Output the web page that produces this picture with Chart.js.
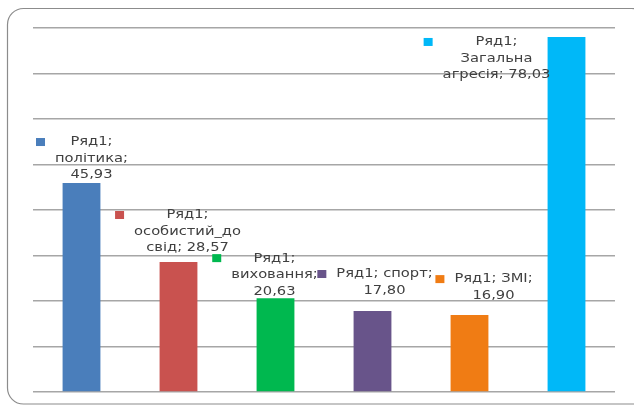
<!DOCTYPE html>
<html>
<head>
<meta charset="utf-8">
<script src="https://cdn.jsdelivr.net/npm/chart.js@4.4.1/dist/chart.umd.min.js"></script>
<style>
  html, body { margin: 0; padding: 0; background: #fff; }
  #wrap { width: 634px; height: 407px; }
</style>
</head>
<body>
<div id="wrap"><canvas id="chart" width="634" height="407"></canvas></div>
<script>
// data
const seriesName = 'Ряд1';
const categories = ['політика', 'особистий_досвід', 'виховання', 'спорт', 'ЗМІ', 'Загальна агресія'];
const values = [45.93, 28.57, 20.63, 17.80, 16.90, 78.03];
const barColors = ['#4A7EBB', '#C9524F', '#00B84F', '#68548A', '#F07C14', '#00B8F8'];
const yTicks = { min: 0, max: 80, step: 10 };

// label placement (relative to top-centre of each bar) and wrap width
const labelDx = [10, 9, -1, 12, 24, -70];
const labelDy = [-41, -47, -40, -37, -36, 5];
const labelWrap = [82, 114, 90, 104, 86, 112];
const textStretch = 1.13; // reference glyphs are a bit wider than DejaVu

const fmt = v => v.toFixed(2).replace('.', ',');

function wrapText(ctx, text, maxW) {
  const mw = s => ctx.measureText(s).width * textStretch;
  const words = text.split(' ');
  const lines = [];
  let cur = '';
  words.forEach(w => {
    const test = cur ? cur + ' ' + w : w;
    if (mw(test) <= maxW) { cur = test; return; }
    if (cur) lines.push(cur);
    // break long word by characters
    if (mw(w) > maxW) {
      let part = '';
      for (const ch of w) {
        if (mw(part + ch) > maxW) { lines.push(part); part = ch; }
        else part += ch;
      }
      cur = part;
    } else cur = w;
  });
  if (cur) lines.push(cur);
  return lines;
}

const framePlugin = {
  id: 'frame',
  beforeDraw(chart) {
    const ctx = chart.ctx;
    ctx.save();
    ctx.strokeStyle = '#8c8c8c';
    ctx.lineWidth = 1.2;
    ctx.beginPath();
    ctx.roundRect(7.5, 8.5, 640, 395.5, 16);
    ctx.stroke();
    ctx.restore();
  }
};

const labelPlugin = {
  id: 'barLabels',
  afterDatasetsDraw(chart) {
    const ctx = chart.ctx;
    const meta = chart.getDatasetMeta(0);
    ctx.save();
    ctx.font = '13px "DejaVu Sans"';
    ctx.textAlign = 'center';
    ctx.textBaseline = 'middle';
    meta.data.forEach((bar, i) => {
      const text = seriesName + '; ' + categories[i] + '; ' + fmt(values[i]);
      const lines = wrapText(ctx, text, labelWrap[i]);
      const cx = bar.x + labelDx[i];
      const y0 = bar.y + labelDy[i];
      const blockW = Math.max(...lines.map(l => ctx.measureText(l).width)) * textStretch;
      ctx.fillStyle = '#404040';
      lines.forEach((l, k) => {
        ctx.save();
        ctx.translate(cx, y0 + k * 16.5);
        ctx.scale(textStretch, 1);
        ctx.fillText(l, 0, 0);
        ctx.restore();
      });
      // legend key
      ctx.fillStyle = barColors[i];
      ctx.fillRect(cx - blockW / 2 - 19, y0 - 4, 9, 8);
    });
    ctx.restore();
  }
};

new Chart(document.getElementById('chart'), {
  type: 'bar',
  data: {
    labels: categories,
    datasets: [{
      label: seriesName,
      data: values,
      backgroundColor: barColors,
      categoryPercentage: 1,
      barPercentage: 0.39
    }]
  },
  options: {
    responsive: false,
    animation: false,
    layout: { padding: { left: 33, right: 19, top: 28, bottom: 15 } },
    plugins: { legend: { display: false }, tooltip: { enabled: false } },
    scales: {
      x: {
        grid: { display: false, drawTicks: false },
        border: { display: false },
        ticks: { display: false }
      },
      y: {
        min: yTicks.min, max: yTicks.max,
        ticks: { display: false, stepSize: yTicks.step },
        grid: { color: '#a6a6a6', lineWidth: 1.5, drawTicks: false },
        border: { display: false }
      }
    }
  },
  plugins: [framePlugin, labelPlugin]
});
</script>
</body>
</html>
